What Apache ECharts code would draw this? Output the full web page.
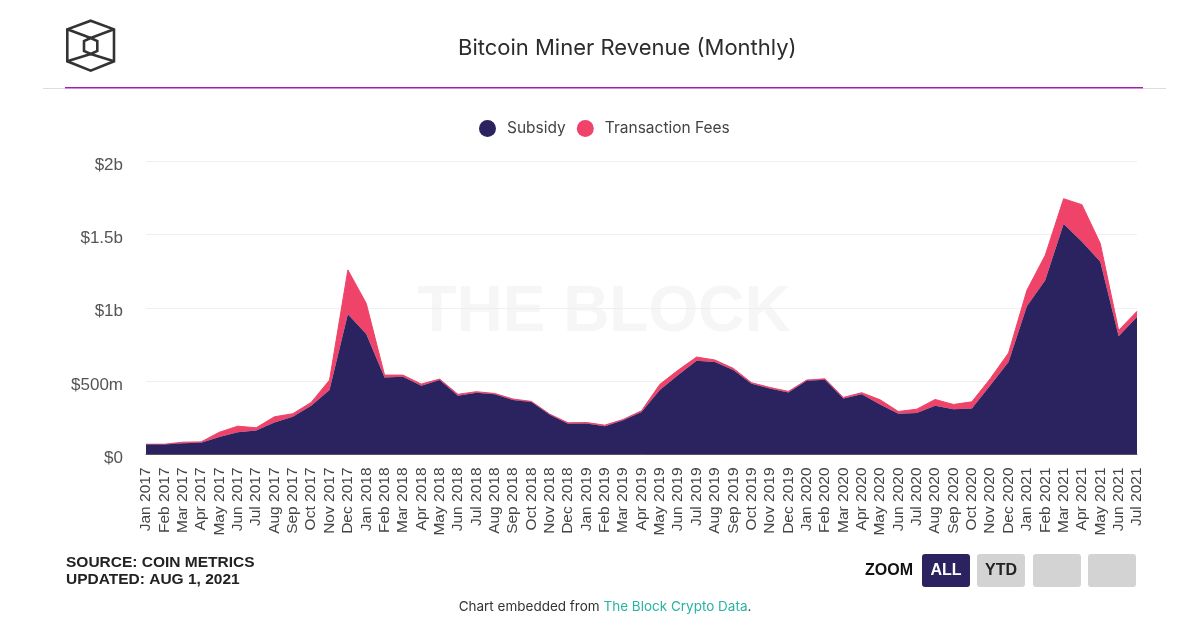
<!DOCTYPE html>
<html>
<head>
<meta charset="utf-8">
<title>Bitcoin Miner Revenue (Monthly)</title>
<script src="https://cdn.jsdelivr.net/npm/echarts@6/dist/echarts.min.js"></script>
<style>
  html, body { margin: 0; padding: 0; background: #fff; }
  #chart-container { width: 1183px; height: 619px; }
</style>
</head>
<body>
<div id="chart-container"></div>
<script>
// monthly, Jan 2017 - Jul 2021, in $m
const months = [
  'Jan 2017','Feb 2017','Mar 2017','Apr 2017','May 2017','Jun 2017','Jul 2017','Aug 2017','Sep 2017','Oct 2017','Nov 2017','Dec 2017',
  'Jan 2018','Feb 2018','Mar 2018','Apr 2018','May 2018','Jun 2018','Jul 2018','Aug 2018','Sep 2018','Oct 2018','Nov 2018','Dec 2018',
  'Jan 2019','Feb 2019','Mar 2019','Apr 2019','May 2019','Jun 2019','Jul 2019','Aug 2019','Sep 2019','Oct 2019','Nov 2019','Dec 2019',
  'Jan 2020','Feb 2020','Mar 2020','Apr 2020','May 2020','Jun 2020','Jul 2020','Aug 2020','Sep 2020','Oct 2020','Nov 2020','Dec 2020',
  'Jan 2021','Feb 2021','Mar 2021','Apr 2021','May 2021','Jun 2021','Jul 2021'
];
const subsidy = [
  68, 68, 77, 80, 120, 152, 164, 218, 257, 332, 439, 955,
  821, 525, 530, 469, 507, 400, 421, 410, 371, 357, 271, 209,
  212, 193, 234, 289, 439, 541, 639, 630, 575, 482, 450, 423,
  503, 510, 382, 410, 341, 278, 282, 332, 309, 314, 471, 630,
  1010, 1188, 1570, 1449, 1313, 805, 937
];
const fees = [
  2, 2, 7, 6, 32, 41, 18, 39, 21, 23, 68, 303,
  209, 16, 11, 11, 7, 10, 7, 6, 7, 5, 4, 7,
  6, 7, 5, 9, 39, 34, 25, 14, 12, 7, 7, 7,
  4, 6, 7, 11, 32, 15, 27, 43, 32, 45, 45, 62,
  109, 170, 173, 253, 125, 41, 39
];
const yTickLabels = { 0: '$0', 500: '$500m', 1000: '$1b', 1500: '$1.5b', 2000: '$2b' };

const navy = '#2b2360';
const pink = '#ef4369';
const labelFont = '"Liberation Sans", Arial, sans-serif';
const headFont = 'Inter, "Noto Sans", sans-serif';

function seg(x1, y1, x2, y2, color, width) {
  return { type: 'line', shape: { x1, y1, x2, y2 }, style: { stroke: color, lineWidth: width }, silent: true };
}
function btn(x, fill, label, color) {
  return [
    { type: 'rect', shape: { x, y: 554, width: 48, height: 33, r: 3 }, style: { fill: fill } },
    { type: 'text', x: x + 24, y: 570.5, style: { text: label, fill: color, font: 'bold 16px ' + labelFont, align: 'center', verticalAlign: 'middle' } }
  ];
}

var dom = document.getElementById('chart-container');
var myChart = echarts.init(dom, null, { renderer: 'canvas' });

var option = {
  animation: false,
  backgroundColor: '#fff',
  title: {
    text: 'Bitcoin Miner Revenue (Monthly)',
    left: 453, top: 32,
    textStyle: { fontFamily: headFont, fontSize: 22, fontWeight: 'normal', color: '#2c2c2c' }
  },
  legend: {
    top: 115, left: 474, icon: 'circle', itemWidth: 17, itemHeight: 17, itemGap: 11,
    selectedMode: false,
    textStyle: { fontFamily: headFont, fontSize: 15.5, color: '#444', padding: [0, 0, 0, 6] },
    data: ['Subsidy', 'Transaction Fees']
  },
  grid: { left: 146, right: 46, top: 161, bottom: 164.5 },
  xAxis: {
    type: 'category', data: months, boundaryGap: false,
    axisLine: { lineStyle: { color: '#666', width: 1 } },
    axisTick: { show: false },
    axisLabel: { interval: 0, rotate: 90, margin: 13, fontFamily: labelFont, fontSize: 15.5, color: '#444' }
  },
  yAxis: {
    type: 'value', min: 0, max: 2000, interval: 500,
    axisLine: { show: false }, axisTick: { show: false },
    splitLine: { lineStyle: { color: '#efefef', width: 1 } },
    // labels hang a few px below their gridlines
    axisLabel: { margin: 23, verticalAlign: 'top', lineHeight: 8, fontFamily: labelFont, fontSize: 17, color: '#555', formatter: v => yTickLabels[v] }
  },
  series: [
    { name: 'Subsidy', type: 'line', stack: 'revenue', data: subsidy, symbol: 'none', z: 3,
      itemStyle: { color: navy }, lineStyle: { width: 0 }, areaStyle: { color: navy, opacity: 1 } },
    { name: 'Transaction Fees', type: 'line', stack: 'revenue', data: fees, symbol: 'none', z: 2,
      itemStyle: { color: pink }, lineStyle: { width: 1, color: pink }, areaStyle: { color: pink, opacity: 1 } }
  ],
  graphic: [
    // watermark sits behind the areas
    { type: 'text', z: -1, x: 604, y: 313, style: { text: 'THE BLOCK', fill: '#f6f6f6', font: 'bold 64px ' + labelFont, align: 'center', verticalAlign: 'middle' } },
    // header rule
    seg(43, 88.5, 65, 88.5, '#dddddd', 1),
    seg(65, 87.75, 1143, 87.75, '#a31db3', 1.5),
    seg(1143, 88.5, 1166, 88.5, '#dddddd', 1),
    // logo
    { type: 'polygon', shape: { points: [[90.7,20.7],[114,29.3],[114,61.3],[90.7,70.7],[67.3,61.3],[67.3,29.3]] }, style: { fill: 'none', stroke: '#333', lineWidth: 2.6 } },
    { type: 'polygon', shape: { points: [[90.7,38],[97.3,41],[97.3,51],[90.7,54],[84,51],[84,41]] }, style: { fill: 'none', stroke: '#333', lineWidth: 2.6 } },
    seg(67.3, 29.3, 90.7, 38, '#333', 2.6),
    seg(114, 29.3, 90.7, 38, '#333', 2.6),
    seg(67.3, 61.3, 90.7, 54, '#333', 2.6),
    seg(114, 61.3, 90.7, 54, '#333', 2.6),
    // footer
    { type: 'text', x: 66, y: 563, style: { text: 'SOURCE: COIN METRICS', fill: '#222', font: 'bold 15.5px ' + labelFont, verticalAlign: 'middle' } },
    { type: 'text', x: 66, y: 580, style: { text: 'UPDATED: AUG 1, 2021', fill: '#222', font: 'bold 15.5px ' + labelFont, verticalAlign: 'middle' } },
    { type: 'text', x: 913, y: 570.5, style: { text: 'ZOOM', fill: '#111', font: 'bold 16px ' + labelFont, align: 'right', verticalAlign: 'middle' } },
    ...btn(922, navy, 'ALL', '#fff'),
    ...btn(977, '#d3d3d3', 'YTD', '#222'),
    ...btn(1033, '#d3d3d3', '', '#222'),
    ...btn(1088, '#d3d3d3', '', '#222'),
    { type: 'text', x: 605, y: 607, style: {
        text: '{a|Chart embedded from }{b|The Block Crypto Data}{a|.}',
        align: 'center', verticalAlign: 'middle',
        rich: {
          a: { fill: '#333', font: '13.5px ' + headFont },
          b: { fill: '#2ab3a3', font: '13.5px ' + headFont }
        }
    } }
  ]
};

myChart.setOption(option);
window.addEventListener('resize', myChart.resize);
</script>
</body>
</html>
